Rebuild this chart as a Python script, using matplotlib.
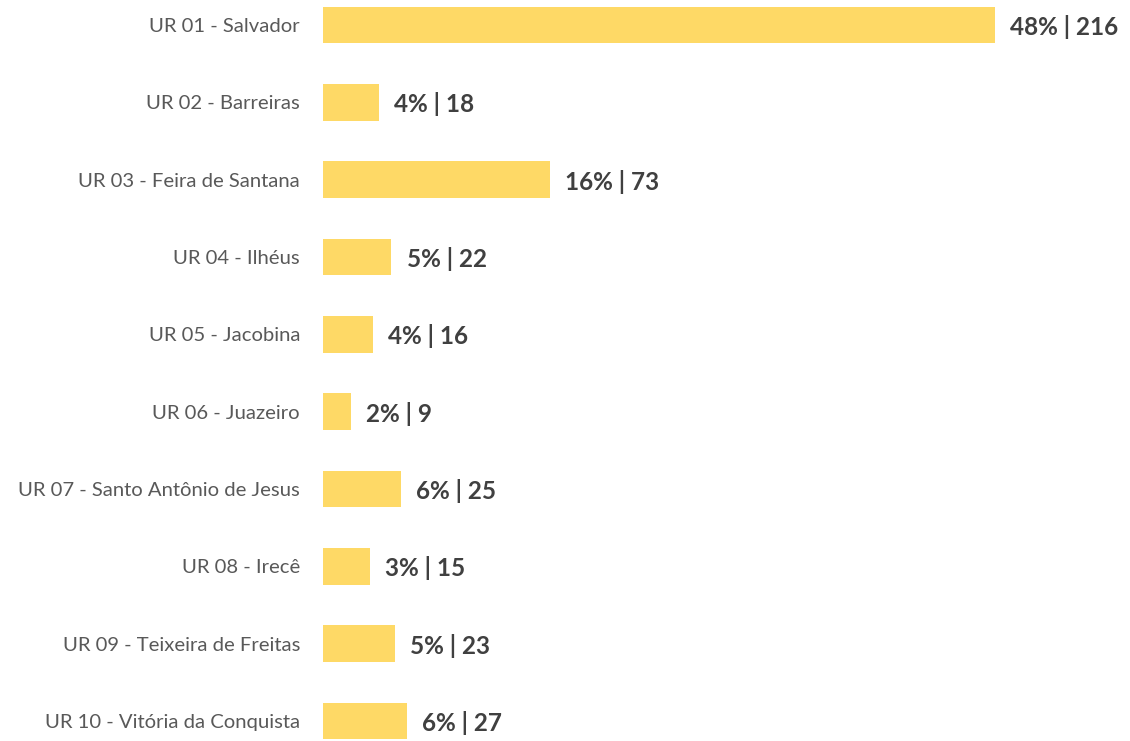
import matplotlib
matplotlib.use("Agg")
import matplotlib.pyplot as plt

# Data
categories = [
    "UR 01 - Salvador",
    "UR 02 - Barreiras",
    "UR 03 - Feira de Santana",
    "UR 04 - Ilhéus",
    "UR 05 - Jacobina",
    "UR 06 - Juazeiro",
    "UR 07 - Santo Antônio de Jesus",
    "UR 08 - Irecê",
    "UR 09 - Teixeira de Freitas",
    "UR 10 - Vitória da Conquista",
]
counts = [216, 18, 73, 22, 16, 9, 25, 15, 23, 27]
percents = [48, 4, 16, 5, 4, 2, 6, 3, 5, 6]

plt.rcParams["font.family"] = ["Lato", "DejaVu Sans"]

fig = plt.figure(figsize=(11.3, 7.41), dpi=100)
ax = fig.add_axes([323 / 1130, 0, 1 - 323 / 1130, 1])

y = list(range(len(categories)))
ax.barh(y, counts, height=0.47, color="#FED966")

# value labels to the right of each bar
for yi, c, p in zip(y, counts, percents):
    ax.annotate(f"{p}% | {c}", xy=(c, yi), xytext=(11, -1.5), textcoords="offset points",
                ha="left", va="center", fontsize=17.5, fontweight="bold", color="#404040")

ax.set_xlim(0, (1130 - 323) / (672 / 216))
ax.set_ylim(9 + 20 / 77.33, -25 / 77.33)
ax.set_yticks(y)
ax.set_yticklabels(categories, fontsize=14.6, color="#595959")
ax.tick_params(axis="y", length=0, pad=16.5)
ax.set_xticks([])
for s in ax.spines.values():
    s.set_visible(False)

fig.savefig("out.png", dpi=100)
